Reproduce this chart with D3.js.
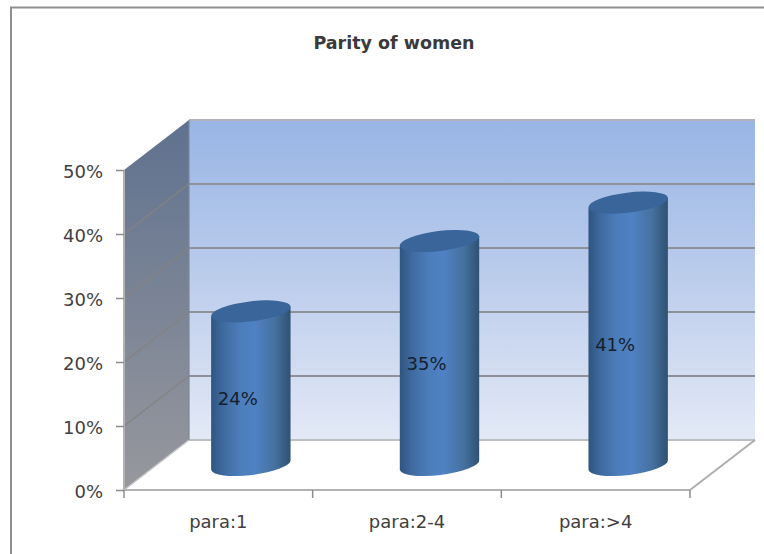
<!DOCTYPE html>
<html>
<head>
<meta charset="utf-8">
<style>
  html, body { margin: 0; padding: 0; background: #fff; }
  svg { display: block; }
  text { font-family: "DejaVu Sans", sans-serif; }
</style>
</head>
<body>
<div id="chart"></div>
<script src="https://cdn.jsdelivr.net/npm/d3@7/dist/d3.min.js"></script>
<script>
// Parity of women: 3D-style cylinder column chart
const categories = ["para:1", "para:2-4", "para:>4"];
const values = [24, 35, 41];
const yTicks = [0, 10, 20, 30, 40, 50];
const chartTitle = "Parity of women";

const width = 764, height = 554;
const front = { left: 124, right: 690, top: 170, bottom: 490 };
const depth = { x: 65, y: -50 };   // offset from the front plane to the back wall
const radiusX = 40, radiusY = 10, tilt = -7; // cylinder cap ellipse

const x = d3.scaleBand().domain(categories).range([front.left, front.right]);
const y = d3.scaleLinear().domain([0, 50]).range([front.bottom, front.top]);

const svg = d3.select("#chart").append("svg")
  .attr("width", width).attr("height", height);
const defs = svg.append("defs");

function verticalGradient(id, stops) {
  const g = defs.append("linearGradient").attr("id", id)
    .attr("x1", 0).attr("y1", 0).attr("x2", 0).attr("y2", 1);
  stops.forEach(([o, c]) => g.append("stop").attr("offset", o).attr("stop-color", c));
}
verticalGradient("backWall", [[0, "#98b5e5"], [0.5, "#bccdec"], [1, "#e3e9f6"]]);
verticalGradient("sideWall", [[0, "#5f718f"], [1, "#97989d"]]);

const body = defs.append("linearGradient").attr("id", "cylinder")
  .attr("x1", 0).attr("y1", 0).attr("x2", 1).attr("y2", 0);
[[0, "#2f557f"], [0.14, "#3e699e"], [0.35, "#4b7cba"], [0.55, "#4f82c4"],
 [0.8, "#46719f"], [1, "#2f5172"]]
  .forEach(([o, c]) => body.append("stop").attr("offset", o).attr("stop-color", c));

// Outer frame: only the top and left edges are visible
svg.append("path")
  .attr("d", `M11,${height} V7.5 H${width}`)
  .attr("fill", "none").attr("stroke", "#8f8f8f").attr("stroke-width", 2);

const line = d3.line();
const [l, r, t, b] = [front.left, front.right, y(50), y(0)];

// Walls and floor
svg.append("path")
  .attr("d", line([[l, t], [l + depth.x, t + depth.y], [l + depth.x, b + depth.y], [l, b]]) + "Z")
  .attr("fill", "url(#sideWall)");
svg.append("rect")
  .attr("x", l + depth.x).attr("y", t + depth.y)
  .attr("width", r - l).attr("height", b - t)
  .attr("fill", "url(#backWall)");
svg.append("path")
  .attr("d", line([[l, b], [r, b], [r + depth.x, b + depth.y], [l + depth.x, b + depth.y]]) + "Z")
  .attr("fill", "#fff");

// Gridlines along the back wall and side wall
const grid = svg.append("g");
yTicks.forEach(v => {
  const yy = y(v);
  grid.append("path")
    .attr("d", line([[l + depth.x, yy + depth.y], [r + depth.x, yy + depth.y]]))
    .attr("fill", "none").attr("stroke", v === 0 ? "#bcbfc4" : v === 50 ? "#b0b4ba" : "#8e9197")
    .attr("stroke-width", 2);
  if (v > 0 && v < 50) {
    grid.append("path")
      .attr("d", line([[l, yy], [l + depth.x, yy + depth.y]]))
      .attr("fill", "none").attr("stroke", "#85827f").attr("stroke-width", 1.2);
  }
});

// Wall and floor edges
svg.append("path")
  .attr("d", line([[l + depth.x, t + depth.y], [l + depth.x, b + depth.y]]))
  .attr("fill", "none").attr("stroke", "#7d8796").attr("stroke-width", 1.2);
svg.append("path")
  .attr("d", line([[l, b], [l + depth.x, b + depth.y]]))
  .attr("fill", "none").attr("stroke", "#c4c4c4").attr("stroke-width", 1.5);
svg.append("path")
  .attr("d", line([[r, b], [r + depth.x, b + depth.y]]))
  .attr("fill", "none").attr("stroke", "#aeaeae").attr("stroke-width", 2);
svg.append("path")
  .attr("d", line([[l, t], [l, b], [r, b]]))
  .attr("fill", "none").attr("stroke", "#b2b2b2").attr("stroke-width", 2);

// Cylinders stand halfway into the depth of the floor
const tiltRad = tilt * Math.PI / 180;
const ex = radiusX * Math.cos(tiltRad), ey = radiusX * Math.sin(tiltRad);
const cx = d => x(d) + x.bandwidth() / 2 + depth.x / 2;
const cyl = svg.append("g").selectAll("g")
  .data(categories.map((c, i) => ({ c, v: values[i] })))
  .join("g");

cyl.append("path")
  .attr("fill", "url(#cylinder)")
  .attr("d", d => {
    const c0 = cx(d.c), top = y(d.v) + depth.y / 2, bottom = y(0) + depth.y / 2;
    return `M${c0 - ex},${top - ey} L${c0 - ex},${bottom - ey}` +
      ` A${radiusX},${radiusY} ${tilt} 0 0 ${c0 + ex},${bottom + ey}` +
      ` L${c0 + ex},${top + ey} Z`;
  });
cyl.append("ellipse")
  .attr("rx", radiusX).attr("ry", radiusY)
  .attr("fill", "#39659a")
  .attr("transform", d => `translate(${cx(d.c)},${y(d.v) + depth.y / 2}) rotate(${tilt})`);

// Value labels sit on the cylinder bodies
cyl.append("text")
  .attr("x", d => cx(d.c) - 13)
  .attr("y", d => (y(d.v) + y(0)) / 2 + depth.y / 2 + 17)
  .attr("text-anchor", "middle")
  .attr("font-size", 18)
  .attr("fill", "#15202c")
  .text(d => d.v + "%");

// Axes
const yAxis = svg.append("g").attr("transform", `translate(${l},0)`)
  .call(d3.axisLeft(y).tickValues(yTicks).tickFormat(d => d + "%").tickSize(8).tickPadding(13));
yAxis.select(".domain").remove();
yAxis.selectAll("line").attr("stroke", "#8c8c8c").attr("stroke-width", 1.5);
yAxis.selectAll("text").attr("font-size", 18).attr("fill", "#404040")
  .attr("font-family", "DejaVu Sans").attr("dy", "0.42em");

const xAxis = svg.append("g").attr("transform", `translate(0,${b})`)
  .call(d3.axisBottom(x).tickSize(0).tickPadding(25));
xAxis.select(".domain").remove();
xAxis.selectAll("text").attr("font-size", 18).attr("fill", "#404040")
  .attr("font-family", "DejaVu Sans");
xAxis.selectAll(".sep")
  .data(categories.map(c => x(c)).concat(r))
  .join("line").attr("class", "sep")
  .attr("x1", d => d).attr("x2", d => d).attr("y1", 0).attr("y2", 8)
  .attr("stroke", "#8c8c8c").attr("stroke-width", 1.5);

// Title
svg.append("text")
  .attr("x", 394).attr("y", 48.5)
  .attr("text-anchor", "middle")
  .attr("font-size", 17.5).attr("font-weight", 700)
  .attr("fill", "#3a3a3a")
  .text(chartTitle);
</script>
</body>
</html>
